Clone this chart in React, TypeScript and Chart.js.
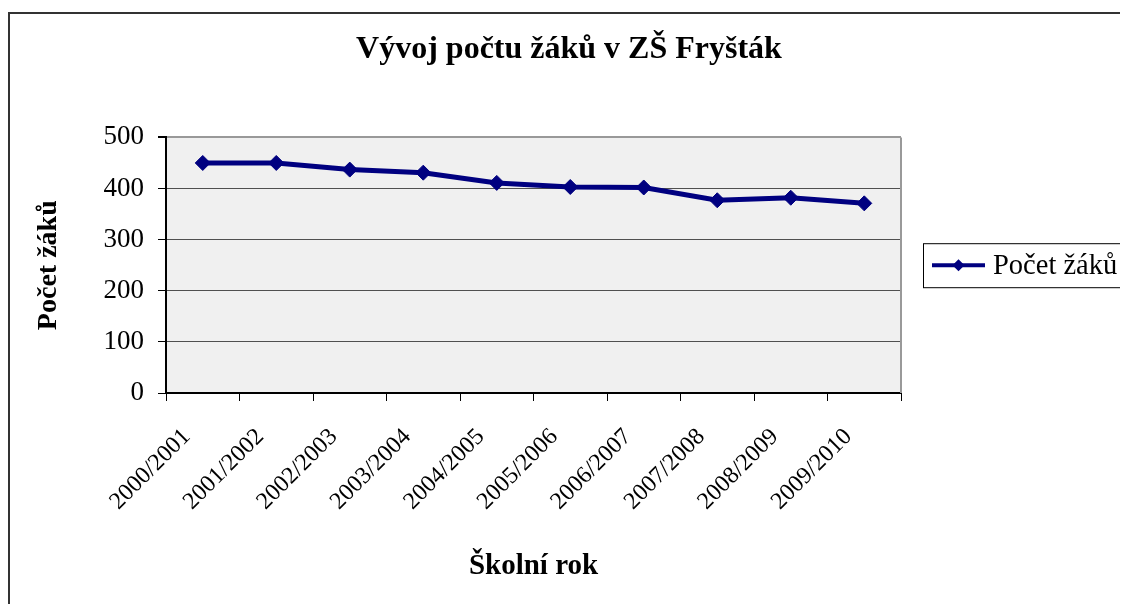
import React, { useEffect, useRef } from 'react';
import { Chart, registerables } from 'chart.js';

Chart.register(...registerables);

const TITLE = 'Vývoj počtu žáků v ZŠ Fryšták';
const X_TITLE = 'Školní rok';
const Y_TITLE = 'Počet žáků';
const SERIES_NAME = 'Počet žáků';

const categories = [
  '2000/2001',
  '2001/2002',
  '2002/2003',
  '2003/2004',
  '2004/2005',
  '2005/2006',
  '2006/2007',
  '2007/2008',
  '2008/2009',
  '2009/2010',
];
const studentCounts = [450, 450, 437, 431, 411, 403, 402, 377, 382, 371];
const yMin = 0;
const yMax = 500;
const yStep = 100;

const FONT = '"Liberation Serif", "Times New Roman", serif';
const LINE_COLOR = '#000080';

const plotBackground = {
  id: 'plotBackground',
  beforeDraw(chart: any) {
    const { ctx, chartArea } = chart;
    ctx.save();
    ctx.fillStyle = '#F0F0F0';
    ctx.fillRect(chartArea.left, chartArea.top, chartArea.right - chartArea.left, chartArea.bottom - chartArea.top);
    ctx.restore();
  },
  afterDatasetsDraw(chart: any) {
    const { ctx, chartArea } = chart;
    ctx.save();
    ctx.strokeStyle = '#999999';
    ctx.lineWidth = 2;
    ctx.beginPath();
    ctx.moveTo(chartArea.right, chartArea.top);
    ctx.lineTo(chartArea.right, chartArea.bottom);
    ctx.stroke();
    ctx.restore();
  },
};

const boxedLegend = {
  id: 'boxedLegend',
  afterDraw(chart: any) {
    const { ctx, chartArea } = chart;
    const ds = chart.data.datasets[0];
    const x = chartArea.right + 22;
    const w = 197;
    const h = 44;
    const cy = (chartArea.top + chartArea.bottom) / 2;
    const y = cy - h / 2;
    ctx.save();
    ctx.fillStyle = '#ffffff';
    ctx.fillRect(x, y, w, h);
    ctx.strokeStyle = '#000000';
    ctx.lineWidth = 1;
    ctx.strokeRect(x + 0.5, y + 0.5, w, h);
    ctx.strokeStyle = ds.borderColor;
    ctx.lineWidth = 4;
    ctx.beginPath();
    ctx.moveTo(x + 9, cy);
    ctx.lineTo(x + 62, cy);
    ctx.stroke();
    const mx = x + 35.5;
    const r = 6;
    ctx.fillStyle = ds.pointBackgroundColor;
    ctx.beginPath();
    ctx.moveTo(mx, cy - r);
    ctx.lineTo(mx + r, cy);
    ctx.lineTo(mx, cy + r);
    ctx.lineTo(mx - r, cy);
    ctx.closePath();
    ctx.fill();
    ctx.fillStyle = '#000000';
    ctx.font = `28.5px ${FONT}`;
    ctx.textBaseline = 'middle';
    ctx.textAlign = 'left';
    ctx.fillText(ds.label, x + 70, cy + 1);
    ctx.restore();
  },
};

export default function App() {
  const canvasRef = useRef<HTMLCanvasElement | null>(null);

  useEffect(() => {
    if (!canvasRef.current) return;
    const chart = new Chart(canvasRef.current, {
      type: 'line',
      data: {
        labels: categories,
        datasets: [
          {
            label: SERIES_NAME,
            data: studentCounts,
            borderColor: LINE_COLOR,
            backgroundColor: LINE_COLOR,
            pointBackgroundColor: LINE_COLOR,
            pointBorderColor: LINE_COLOR,
            borderWidth: 5,
            pointStyle: 'rectRot',
            pointRadius: 7.5,
            pointBorderWidth: 1,
            tension: 0,
            yAxisID: 'y',
            clip: false as any,
          },
        ],
      },
      options: {
        responsive: false,
        animation: false,
        maintainAspectRatio: false,
        layout: { padding: { left: 0, right: 0, top: 0, bottom: 0 } },
        plugins: {
          legend: { display: false },
          tooltip: { enabled: false },
          title: {
            display: true,
            text: TITLE,
            color: '#000',
            font: { family: FONT, size: 32, weight: 'bold' },
            padding: { top: 17, bottom: 68 },
          },
        },
        scales: {
          x: {
            type: 'category',
            offset: true,
            grid: {
              offset: true,
              drawOnChartArea: false,
              drawTicks: true,
              tickLength: 8,
              tickColor: '#000',
            },
            border: { color: '#000', width: 2 },
            ticks: {
              color: '#000',
              font: { family: FONT, size: 24 },
              maxRotation: 45,
              minRotation: 45,
              autoSkip: false,
              padding: 22,
              labelOffset: -16,
            },
            title: {
              display: true,
              text: X_TITLE,
              color: '#000',
              font: { family: FONT, size: 29, weight: 'bold' },
              padding: { top: 0, bottom: 20 },
            },
            afterFit(scale: any) {
              scale.height = 211;
            },
          },
          y: {
            min: yMin,
            max: yMax,
            ticks: {
              stepSize: yStep,
              color: '#000',
              font: { family: FONT, size: 27 },
              padding: 14,
            },
            grid: {
              color: (c: any) => (c.tick && c.tick.value === yMax ? '#999999' : '#505050'),
              lineWidth: (c: any) => (c.tick && c.tick.value === yMax ? 2 : 1),
              tickColor: '#000',
              tickLength: 8,
            },
            border: { color: '#000', width: 2 },
            title: {
              display: true,
              text: Y_TITLE,
              color: '#000',
              font: { family: FONT, size: 28, weight: 'bold' },
              padding: { top: 22, bottom: 0 },
            },
            afterFit(scale: any) {
              scale.width = 156;
            },
          },
          legendSpace: {
            type: 'linear',
            axis: 'y',
            position: 'right',
            display: true,
            grid: { display: false, drawTicks: false },
            ticks: { display: false },
            border: { display: false },
            title: { display: false },
            afterFit(scale: any) {
              scale.width = 227;
            },
          } as any,
        },
      },
      plugins: [plotBackground, boxedLegend],
    });
    return () => chart.destroy();
  }, []);

  return (
    <div style={{ paddingTop: 4 }}>
      <div
        style={{
          borderTop: '2px solid #333',
          borderLeft: '2px solid #333',
          width: 1118,
          height: 590,
          overflow: 'hidden',
          boxSizing: 'content-box',
        }}
      >
        <canvas ref={canvasRef} width={1118} height={590} style={{ display: 'block' }} />
      </div>
    </div>
  );
}
